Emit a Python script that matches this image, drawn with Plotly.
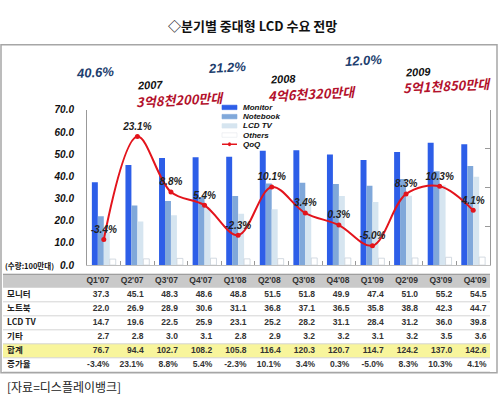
import plotly.graph_objects as go

W, H = 500, 404

quarters = ["Q1'07", "Q2'07", "Q3'07", "Q4'07", "Q1'08", "Q2'08",
            "Q3'08", "Q4'08", "Q1'09", "Q2'09", "Q3'09", "Q4'09"]
monitor = [37.3, 45.1, 48.3, 48.6, 48.8, 51.5, 51.8, 49.9, 47.4, 51.0, 55.2, 54.5]
notebook = [22.0, 26.9, 28.9, 30.6, 31.1, 36.8, 37.1, 36.5, 35.8, 38.8, 42.3, 44.7]
lcd_tv = [14.7, 19.6, 22.5, 25.9, 23.1, 25.2, 28.2, 31.1, 28.4, 31.2, 36.0, 39.8]
others = [2.7, 2.8, 3.0, 3.1, 2.8, 2.9, 3.2, 3.2, 3.1, 3.2, 3.5, 3.6]
total = [76.7, 94.4, 102.7, 108.2, 105.8, 116.4, 120.3, 120.7, 114.7, 124.2, 137.0, 142.6]
qoq = [-3.4, 23.1, 8.8, 5.4, -2.3, 10.1, 3.4, 0.3, -5.0, 8.3, 10.3, 4.1]

row_labels = ['모니터', '노트북', 'LCD TV', '기타', '합계', '증가율']

yearly_growth = ['40.6%', '21.2%', '12.0%']
years = ['2007', '2008', '2009']
yearly_total = ['3억8천200만대', '4억6천320만대', '5억1천850만대']

FONT = 'Liberation Sans, Noto Sans CJK KR, sans-serif'
KFONT = 'Noto Sans CJK KR, sans-serif'
C_MON = '#2d5ee8'
C_NB = '#80a8da'
C_TV = '#d6e5f0'
C_OTH = '#ffffff'
C_RED = '#e3141c'


def P(x, y):
    # pixel position -> paper coords
    return x / W, 1 - y / H


fig = go.Figure()

fig.add_bar(x=quarters, y=monitor, name='Monitor', marker_color=C_MON, marker_line_width=0)
fig.add_bar(x=quarters, y=notebook, name='Notebook', marker_color=C_NB, marker_line_width=0)
fig.add_bar(x=quarters, y=lcd_tv, name='LCD TV', marker_color=C_TV, marker_line_width=0)
fig.add_bar(x=quarters, y=others, name='Others', marker_color=C_OTH,
            marker_line_color='#c9d2da', marker_line_width=0.8)
fig.add_scatter(x=quarters, y=qoq, name='QoQ', yaxis='y2', mode='lines+markers+text',
                line=dict(color=C_RED, width=2, shape='spline', smoothing=1),
                marker=dict(color=C_RED, size=5),
                text=[f'{v:.1f}%' for v in qoq], textposition='top center',
                textfont=dict(family=FONT, size=10, color='#222', weight='bold', style='italic'))

# ---- data table, drawn as text on its own axes (x3 = column, y3 = row)
LABEL_W = 2.2          # label column width, in quarter-column units
n = len(quarters)
tfont = dict(family=FONT, size=8.5, color='#333', weight='bold')

series_rows = [
    [f'{v:.1f}' for v in monitor],
    [f'{v:.1f}' for v in notebook],
    [f'{v:.1f}' for v in lcd_tv],
    [f'{v:.1f}' for v in others],
    [f'{v:.1f}' for v in total],
    [f'{v:.1f}%' for v in qoq],
]
col_x = [i + 0.9 for i in range(n)]

# header row
fig.add_scatter(x=col_x, y=[0] * n, text=quarters, mode='text', textposition='middle left',
                textfont=tfont, xaxis='x3', yaxis='y3', hoverinfo='skip')
for r, vals in enumerate(series_rows, start=1):
    fig.add_scatter(x=col_x, y=[r] * n, text=vals, mode='text', textposition='middle left',
                    textfont=tfont, xaxis='x3', yaxis='y3', hoverinfo='skip')
fig.add_scatter(x=[-LABEL_W + 0.12] * len(row_labels), y=list(range(1, len(row_labels) + 1)),
                text=row_labels, mode='text', textposition='middle right',
                textfont=dict(family=KFONT, size=8.5, color='#222', weight='bold'),
                xaxis='x3', yaxis='y3', hoverinfo='skip')

# header fill, total-row highlight, row rules
fig.add_shape(type='rect', xref='x3', yref='y3', x0=-LABEL_W, x1=n, y0=-0.5, y1=0.5,
              fillcolor='#c9c9c9', line_width=0, layer='below')
fig.add_shape(type='rect', xref='x3', yref='y3', x0=-LABEL_W, x1=n, y0=4.5, y1=5.5,
              fillcolor='#f8f59c', line_width=0, layer='below')
fig.add_shape(type='line', xref='x3', yref='y3', x0=-LABEL_W, x1=n, y0=-0.5, y1=-0.5,
              line=dict(color='#777', width=1.2))
for r in range(1, len(row_labels) + 1):
    fig.add_shape(type='line', xref='x3', yref='y3', x0=-LABEL_W, x1=n, y0=r + 0.5, y1=r + 0.5,
                  line=dict(color='#d4d4d4', width=1))

fig.update_layout(
    width=W, height=H,
    margin=dict(l=0, r=0, t=0, b=0),
    paper_bgcolor='white', plot_bgcolor='white',
    showlegend=False,
    barmode='group', bargap=0.29, bargroupgap=0,
    xaxis=dict(domain=[87 / W, 490 / W], range=[-0.5, n - 0.5], showticklabels=False,
               showline=True, linecolor='#bfbfbf', ticks='inside', ticklen=4,
               tickcolor='#999', tickson='boundaries', showgrid=False, fixedrange=True),
    yaxis=dict(domain=[1 - 267 / H, 1 - 107 / H], range=[0, 70], dtick=10,
               tickformat='.1f', showgrid=False, zeroline=False, showline=True,
               linecolor='#999', ticks='', fixedrange=True, ticklabelstandoff=10,
               tickfont=dict(family=FONT, size=10, color='#111', weight='bold', style='italic')),
    yaxis2=dict(overlaying='y', side='right', range=[-10, 30], dtick=10,
                showticklabels=False, showgrid=False, zeroline=False, showline=True,
                linecolor='#999', ticks='inside', ticklen=5, tickcolor='#999', fixedrange=True),
    xaxis3=dict(domain=[3 / W, 490 / W], range=[-LABEL_W, n], visible=False,
                anchor='y3', fixedrange=True),
    yaxis3=dict(domain=[1 - 377 / H, 1 - 276 / H], range=[6.5, -0.5], visible=False,
                anchor='x3', fixedrange=True),
    font=dict(family=FONT),
)

# outer frame
fig.add_shape(type='rect', xref='paper', yref='paper',
              x0=1 / W, x1=497 / W, y0=1 - 378 / H, y1=1 - 40 / H,
              line=dict(color='#a6a6a6', width=1.5), layer='below')


def note(x, y, text, size, color, italic=True, angle=0, xanchor='center', family=FONT):
    px, py = P(x, y)
    fig.add_annotation(x=px, y=py, xref='paper', yref='paper', text=text, showarrow=False,
                       xanchor=xanchor, yanchor='middle', textangle=angle,
                       font=dict(family=family, size=size, color=color, weight='bold',
                                 style='italic' if italic else 'normal'))


note(252, 20, '◇분기별 중대형 LCD 수요 전망', 13, '#111', italic=False, family=KFONT)

growth_pos = [(95, 69), (227, 63), (363, 56)]
year_pos = [(150, 81), (283, 75), (418, 68)]
total_pos = [(180, 96), (312, 90), (447, 82)]
for i in range(3):
    note(*growth_pos[i], yearly_growth[i], 13, '#1d3e6e', angle=-3)
    note(*year_pos[i], years[i], 11, '#111', angle=-3)
    note(*total_pos[i], yearly_total[i], 13, '#b3112c', angle=-3, family=KFONT)

note(3, 267, '(수량:100만대)', 7.5, '#111', italic=False, xanchor='left', family=KFONT)

# legend
leg_items = [('Monitor', C_MON), ('Notebook', C_NB), ('LCD TV', C_TV), ('Others', C_OTH)]
leg_y = [104.5, 114, 123.5, 133]
for (name, col), y in zip(leg_items, leg_y):
    x0, y0 = P(222, y - 2.3)
    x1, y1 = P(237, y + 2.3)
    fig.add_shape(type='rect', xref='paper', yref='paper', x0=x0, x1=x1, y0=y0, y1=y1,
                  fillcolor=col, line=dict(color='#e4e8ec' if col == C_OTH else col, width=0.6))
    note(241, y, name, 8, '#111', xanchor='left')
qx0, qy = P(222, 142.5)
qx1, _ = P(237, 142.5)
fig.add_shape(type='line', xref='paper', yref='paper', x0=qx0, x1=qx1, y0=qy, y1=qy,
              line=dict(color=C_RED, width=1.5))
cx0, cy0 = P(228, 140.5)
cx1, cy1 = P(231, 144.5)
fig.add_shape(type='circle', xref='paper', yref='paper', x0=cx0, x1=cx1, y0=cy0, y1=cy1,
              fillcolor=C_RED, line=dict(color=C_RED, width=0))
note(241, 142.5, 'QoQ', 8, '#111', xanchor='left')

sx, sy = P(5, 392)
fig.add_annotation(x=sx, y=sy, xref='paper', yref='paper', text='[자료=디스플레이뱅크]',
                   showarrow=False, xanchor='left', yanchor='middle',
                   font=dict(family=KFONT, size=12, color='#222'))

# drop the default 8px page margin so the figure fills the window
fig.write_html("out.html", config={'displayModeBar': False},
               post_script="document.body.style.margin='0';")
